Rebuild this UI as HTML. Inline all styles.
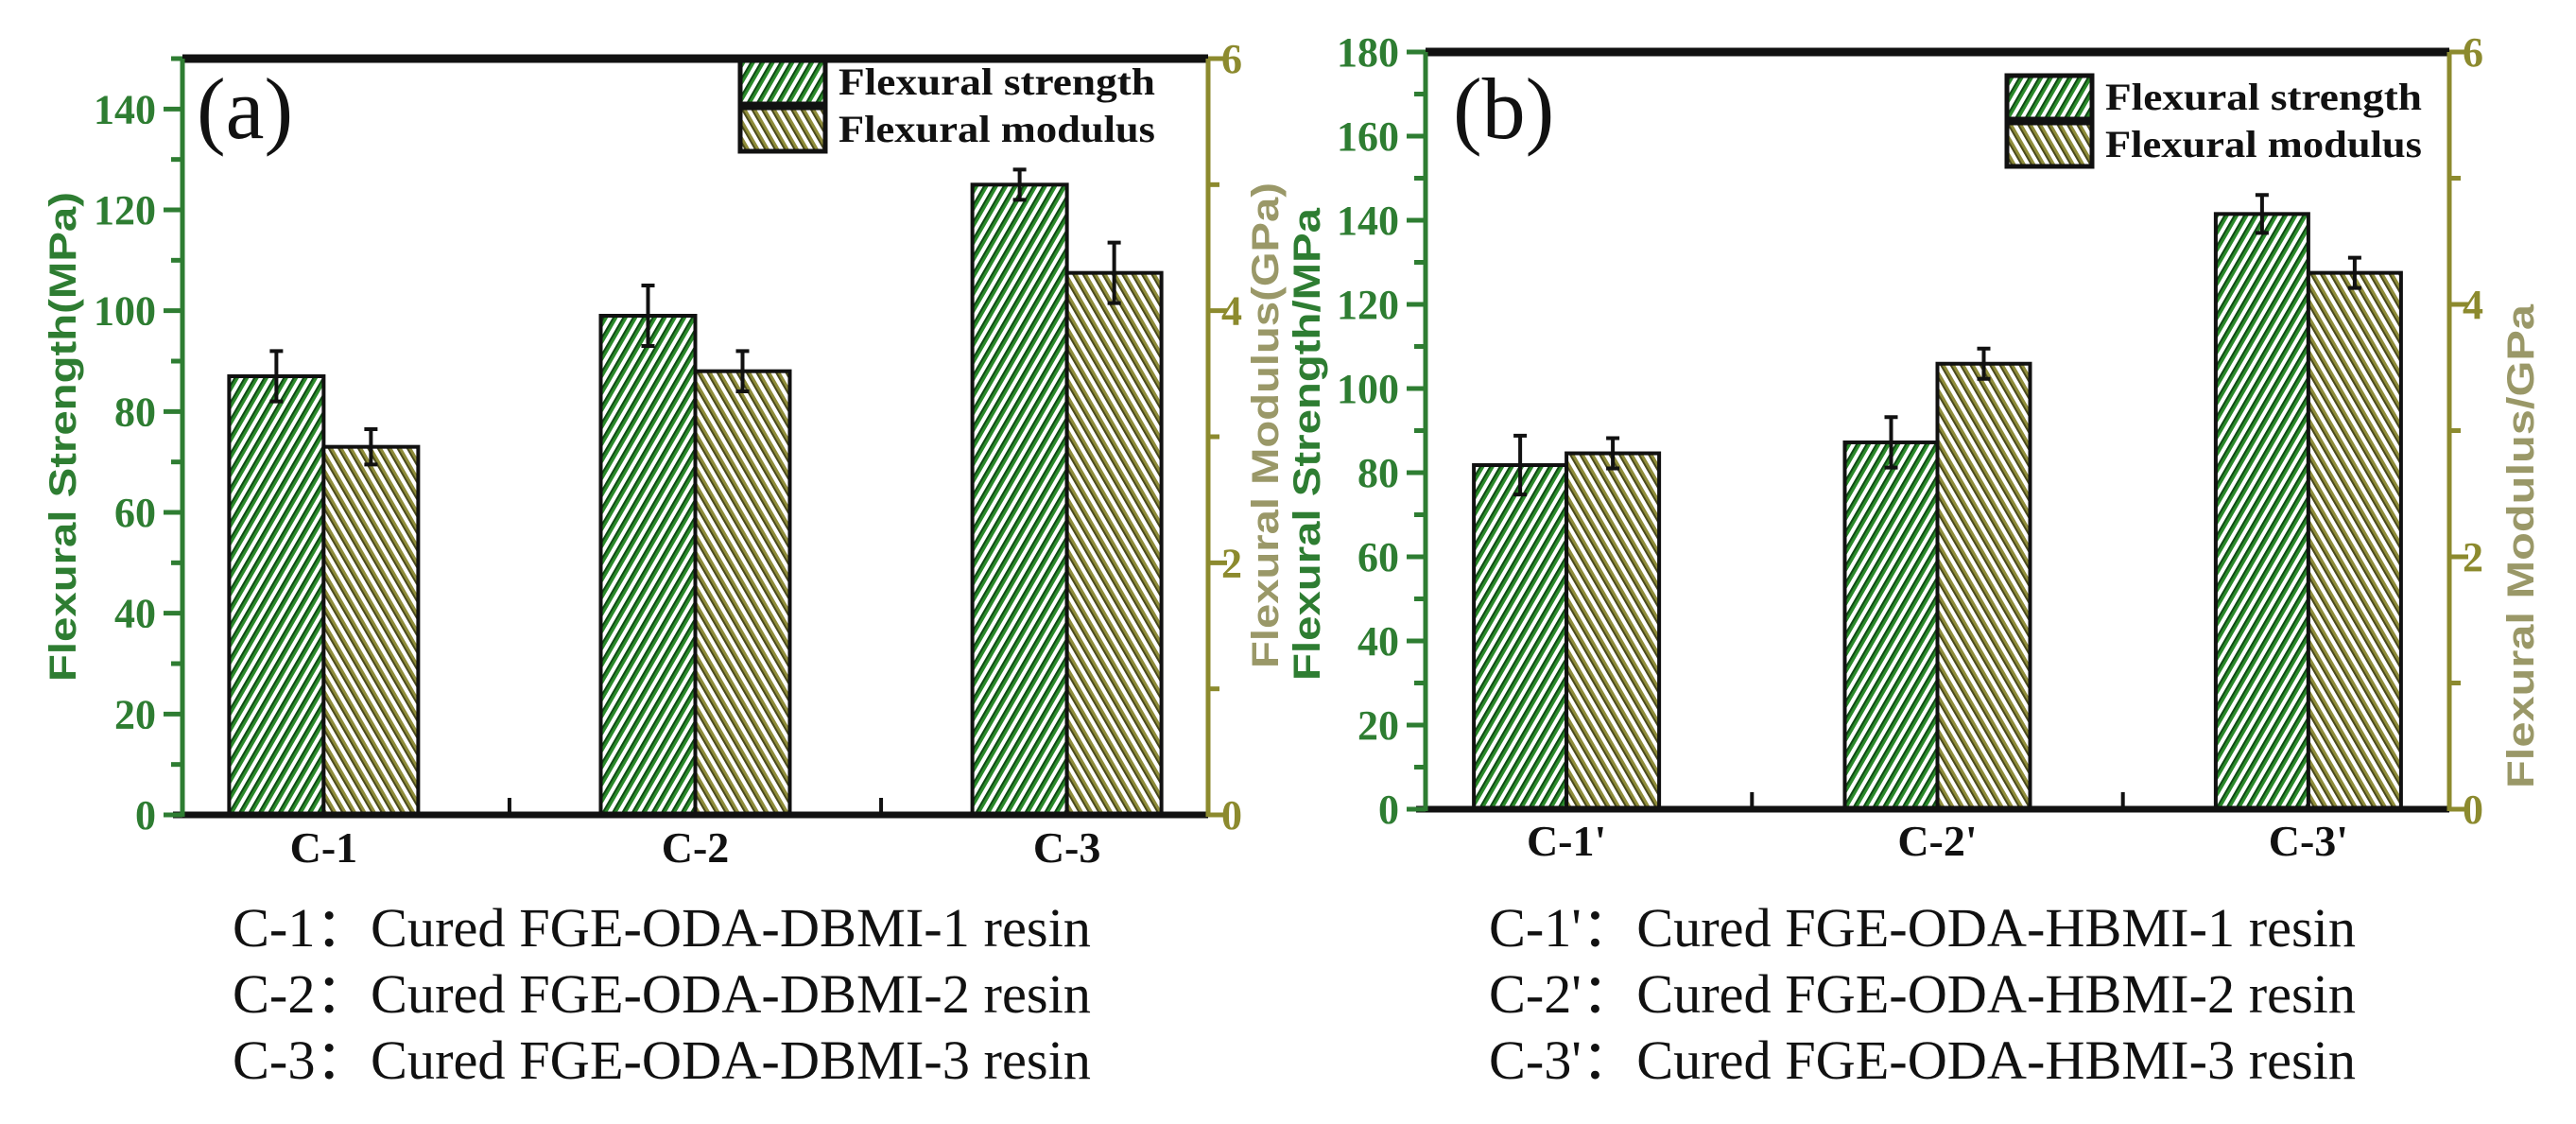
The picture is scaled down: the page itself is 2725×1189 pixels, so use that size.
<!DOCTYPE html>
<html><head><meta charset="utf-8"><style>
html,body{margin:0;padding:0;background:#fff;}
svg{display:block;}
</style></head><body>
<svg id="chart" width="2725" height="1189" viewBox="0 0 2725 1189" xmlns="http://www.w3.org/2000/svg">
<defs>
<pattern id="hatchG" patternUnits="userSpaceOnUse" width="9" height="9" patternTransform="rotate(30)">
<rect width="9" height="9" fill="#ffffff"/><rect width="5" height="9" fill="#2a8a2a"/><rect width="2" height="9" fill="#0f4a14"/>
</pattern>
<pattern id="hatchY" patternUnits="userSpaceOnUse" width="9" height="9" patternTransform="rotate(-30)">
<rect width="9" height="9" fill="#ffffff"/><rect width="5" height="9" fill="#8e8c3a"/><rect width="2" height="9" fill="#4a4a1c"/>
</pattern>
</defs>
<g id="panels"></g>
</svg>
<script>
// Panel (a) data
const catsA = ["C-1", "C-2", "C-3"];
const strengthA = [87, 99, 125];
const strengthErrA = [5, 6, 3];
const modulusA = [2.92, 3.52, 4.3];
const modulusErrA = [0.14, 0.16, 0.24];
const leftTicksA = [0, 20, 40, 60, 80, 100, 120, 140];
const rightTicksA = [0, 2, 4, 6];
const descA = ["C-1：Cured FGE-ODA-DBMI-1  resin", "C-2：Cured FGE-ODA-DBMI-2  resin", "C-3：Cured FGE-ODA-DBMI-3  resin"];
// Panel (b) data
const catsB = ["C-1'", "C-2'", "C-3'"];
const strengthB = [81.8, 87.2, 141.5];
const strengthErrB = [7, 6, 4.5];
const modulusB = [2.82, 3.53, 4.25];
const modulusErrB = [0.12, 0.12, 0.12];
const leftTicksB = [0, 20, 40, 60, 80, 100, 120, 140, 160, 180];
const rightTicksB = [0, 2, 4, 6];
const descB = ["C-1'：Cured FGE-ODA-HBMI-1  resin", "C-2'：Cured FGE-ODA-HBMI-2  resin", "C-3'：Cured FGE-ODA-HBMI-3  resin"];

const NS = "http://www.w3.org/2000/svg";
const root = document.getElementById("panels");
const GREEN = "#2e7d32", OLIVE = "#8c8a2e";
function mk(tag, attrs, parent) {
  const e = document.createElementNS(NS, tag);
  for (const k in attrs) e.setAttribute(k, attrs[k]);
  (parent || root).appendChild(e);
  return e;
}

function panel(cfg) {
  const g = mk("g", {});
  
  
  const L = cfg.left, R = cfg.right, T = cfg.top, B = cfg.bottom;
  const ys = v => B - (v / cfg.ymax) * (B - T);
  const yr = v => B - (v / cfg.rmax) * (B - T);
  const xs = c => L + (c - 0.62) / (3.38 - 0.62) * (R - L);
  const bw = cfg.bw;
  cfg.cats.forEach((c, i) => {
    const cx = xs(i + 1);
    let y = ys(cfg.s[i]);
    const b1 = mk("rect", {x: cx - bw, y: y, width: bw, height: B - y, fill: "url(#hatchG)", stroke: "#111", "stroke-width": 4}, g);
    
    
    let y2 = yr(cfg.m[i]);
    const b2 = mk("rect", {x: cx, y: y2, width: bw, height: B - y2, fill: "url(#hatchY)", stroke: "#111", "stroke-width": 4}, g);
    
    
    const ex1 = cx - bw / 2, ex2 = cx + bw / 2;
    const e1 = mk("path", {d: `M${ex1},${ys(cfg.s[i] + cfg.se[i])}V${ys(cfg.s[i] - cfg.se[i])}M${ex1 - 7},${ys(cfg.s[i] + cfg.se[i])}H${ex1 + 7}M${ex1 - 7},${ys(cfg.s[i] - cfg.se[i])}H${ex1 + 7}`, stroke: "#111", "stroke-width": 4, fill: "none"}, g);
    
    
    const e2 = mk("path", {d: `M${ex2},${yr(cfg.m[i] + cfg.me[i])}V${yr(cfg.m[i] - cfg.me[i])}M${ex2 - 7},${yr(cfg.m[i] + cfg.me[i])}H${ex2 + 7}M${ex2 - 7},${yr(cfg.m[i] - cfg.me[i])}H${ex2 + 7}`, stroke: "#111", "stroke-width": 4, fill: "none"}, g);
    
    
    const t = mk("text", {x: cx, y: cfg.catY, "text-anchor": "middle", "font-family": "Liberation Serif, serif", "font-weight": "bold", "font-size": 46, fill: "#111"}, g);
    t.textContent = c;
    
    
  });
  [1.5, 2.5].forEach(v => { mk("line", {x1: xs(v), x2: xs(v), y1: B, y2: B - 18, stroke: "#111", "stroke-width": 4}, g); });
  const top = mk("line", {x1: L, x2: R, y1: T, y2: T, stroke: "#111", "stroke-width": 9}, g);
   
  const bot = mk("line", {x1: L - 10, x2: R, y1: B, y2: B, stroke: "#111", "stroke-width": 7}, g);
   
  const la = mk("line", {x1: L, x2: L, y1: T, y2: B + 2, stroke: GREEN, "stroke-width": 5}, g);
   
  const ra = mk("line", {x1: R, x2: R, y1: T, y2: B + 2, stroke: OLIVE, "stroke-width": 5}, g);
   
  for (let v = 0; v <= cfg.ymax; v += 10) {
    const major = v % 20 === 0;
    mk("line", {x1: L, x2: L - (major ? 20 : 12), y1: ys(v), y2: ys(v), stroke: GREEN, "stroke-width": 5}, g);
  }
  cfg.lt.forEach(v => {
    const t = mk("text", {x: L - 28, y: ys(v) + 15, "text-anchor": "end", "font-family": "Liberation Serif, serif", "font-weight": "bold", "font-size": 44, fill: GREEN}, g);
    t.textContent = v;
    
    
  });
  for (let v = 0; v <= cfg.rmax; v += 1) {
    const major = v % 2 === 0;
    mk("line", {x1: R, x2: R + (major ? 20 : 12), y1: yr(v), y2: yr(v), stroke: OLIVE, "stroke-width": 5}, g);
  }
  cfg.rt.forEach(v => {
    const t = mk("text", {x: R + 14, y: yr(v) + 15, "text-anchor": "start", "font-family": "Liberation Serif, serif", "font-weight": "bold", "font-size": 44, fill: OLIVE}, g);
    t.textContent = v;
    
    
  });
  const lt = mk("text", {transform: `translate(${cfg.ltX},${cfg.ltY}) rotate(-90)`, "text-anchor": "middle", "font-family": "Liberation Sans, sans-serif", "font-weight": "bold", "font-size": 40, fill: GREEN, textLength: cfg.ltLen, lengthAdjust: "spacingAndGlyphs"}, g);
  lt.textContent = cfg.leftTitle;
  
  
  const rt = mk("text", {transform: `translate(${cfg.rtX},${cfg.rtY}) rotate(-90)`, "text-anchor": "middle", "font-family": "Liberation Sans, sans-serif", "font-weight": "bold", "font-size": 40, fill: "#9a9868", textLength: cfg.rtLen, lengthAdjust: "spacingAndGlyphs"}, g);
  rt.textContent = cfg.rightTitle;
  
  
  const pl = mk("text", {x: cfg.letterX, y: 146, "font-family": "Liberation Serif, serif", "font-size": 92, fill: "#111"}, g);
  pl.textContent = cfg.letter;
  
  
  const lg = mk("g", {}, g);
  
  
  [["url(#hatchG)", "Flexural strength"], ["url(#hatchY)", "Flexural modulus"]].forEach((d, k) => {
    const y0 = cfg.legY + k * 50;
    const sw = mk("rect", {x: cfg.legX, y: y0, width: 90, height: 46, fill: d[0], stroke: "#111", "stroke-width": 5}, lg);
    
    
    const t = mk("text", {x: cfg.legX + 104, y: y0 + 36, "font-family": "Liberation Serif, serif", "font-weight": "bold", "font-size": 40, fill: "#111", textLength: 335, lengthAdjust: "spacingAndGlyphs"}, lg);
    t.textContent = d[1];
    
    
  });
  cfg.desc.forEach((s, k) => {
    const t = mk("text", {x: cfg.descX, y: 1001 + k * 70, "font-family": "Liberation Serif, serif", "font-size": 58, fill: "#111", textLength: cfg.descLen, lengthAdjust: "spacingAndGlyphs"}, g);
    t.textContent = s;
    
    
  });
}

panel({name: "panel-a", left: 193, right: 1278, top: 62, bottom: 862, ymax: 150, rmax: 6, bw: 100,
  cats: catsA, s: strengthA, se: strengthErrA, m: modulusA, me: modulusErrA, lt: leftTicksA, rt: rightTicksA,
  catY: 912, leftTitle: "Flexural Strength(MPa)", ltX: 80, ltY: 462, ltLen: 518,
  rightTitle: "Flexural Modulus(GPa)", rtX: 1352, rtY: 450, rtLen: 514,
  letter: "(a)", letterX: 208, legX: 783, legY: 64, desc: descA, descX: 246, descLen: 908});
panel({name: "panel-b", left: 1508, right: 2591, top: 55, bottom: 856, ymax: 180, rmax: 6, bw: 98,
  cats: catsB, s: strengthB, se: strengthErrB, m: modulusB, me: modulusErrB, lt: leftTicksB, rt: rightTicksB,
  catY: 905, leftTitle: "Flexural Strength/MPa", ltX: 1396, ltY: 470, ltLen: 500,
  rightTitle: "Flexural Modulus/GPa", rtX: 2680, rtY: 578, rtLen: 512,
  letter: "(b)", letterX: 1537, legX: 2123, legY: 80, desc: descB, descX: 1575, descLen: 917});
</script>
</body></html>
